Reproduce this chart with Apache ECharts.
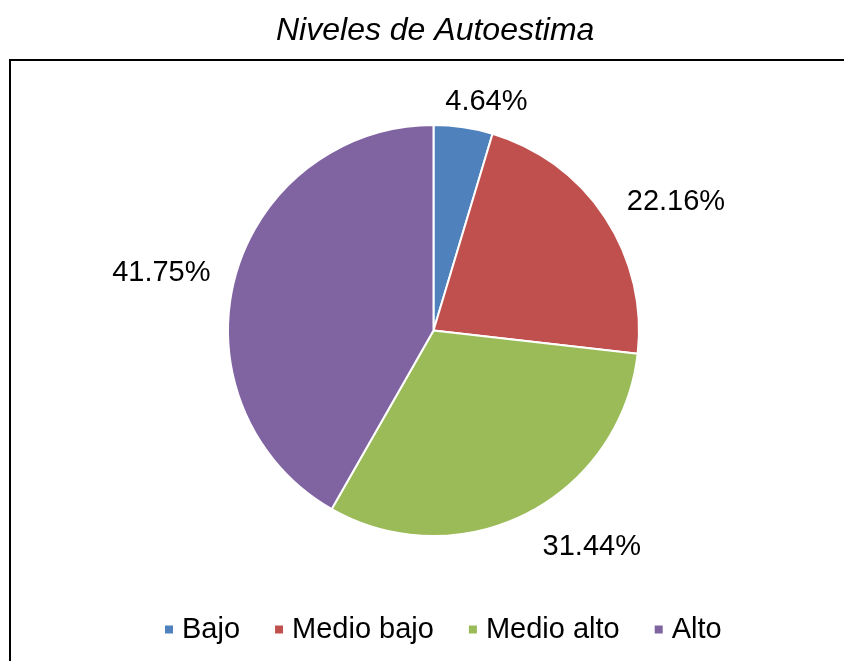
<!DOCTYPE html>
<html>
<head>
<meta charset="utf-8">
<title>Niveles de Autoestima</title>
<script src="https://cdn.jsdelivr.net/npm/echarts@6/dist/echarts.min.js"></script>
<style>
  html, body { margin: 0; padding: 0; background: #ffffff; }
  #chart { width: 844px; height: 661px; }
</style>
</head>
<body>
<div id="chart"></div>
<script>
// Self-esteem levels (percent of respondents)
const categories = ['Bajo', 'Medio bajo', 'Medio alto', 'Alto'];
const percentages = [4.64, 22.16, 31.44, 41.75];
const sliceColors = ['#4F81BD', '#C0504D', '#9BBB59', '#8064A2'];

const FONT = '"Liberation Sans", Arial, sans-serif';

// small nudges so each outside label sits where it reads best
const labelNudge = [[-26, -5], [0, -4], [2, 15], [0, 0]];

const chart = echarts.init(document.getElementById('chart'), null, { renderer: 'canvas' });

chart.setOption({
  animation: false,
  backgroundColor: '#ffffff',
  color: sliceColors,
  title: {
    text: 'Niveles de Autoestima',
    left: 271,
    top: 10,
    textStyle: {
      fontFamily: FONT,
      fontStyle: 'italic',
      fontWeight: 'normal',
      fontSize: 32,
      color: '#000000'
    }
  },
  graphic: [{
    // chart area frame
    type: 'rect',
    silent: true,
    shape: { x: 10, y: 60, width: 900, height: 700 },
    style: { fill: 'none', stroke: '#000000', lineWidth: 2 }
  }],
  legend: {
    bottom: 12,
    left: 158,
    itemWidth: 10,
    itemHeight: 10,
    itemGap: 33,
    icon: 'rect',
    textStyle: {
      fontFamily: FONT,
      fontSize: 29,
      color: '#000000',
      padding: [0, 0, 0, 3]
    },
    data: categories
  },
  series: [{
    type: 'pie',
    center: [433.5, 330.5],
    radius: [0, 205.5],
    startAngle: 90,
    clockwise: true,
    avoidLabelOverlap: false,
    itemStyle: { borderColor: '#ffffff', borderWidth: 2 },
    label: {
      show: true,
      position: 'outside',
      formatter: function (p) { return p.value.toFixed(2) + '%'; },
      fontFamily: FONT,
      fontSize: 29,
      color: '#000000'
    },
    labelLine: { show: false, length: 20, length2: 0 },
    labelLayout: function (params) {
      const n = labelNudge[params.dataIndex];
      return { dx: n[0], dy: n[1] };
    },
    emphasis: { disabled: true },
    data: categories.map(function (name, i) {
      return { name: name, value: percentages[i] };
    })
  }]
});
</script>
</body>
</html>
